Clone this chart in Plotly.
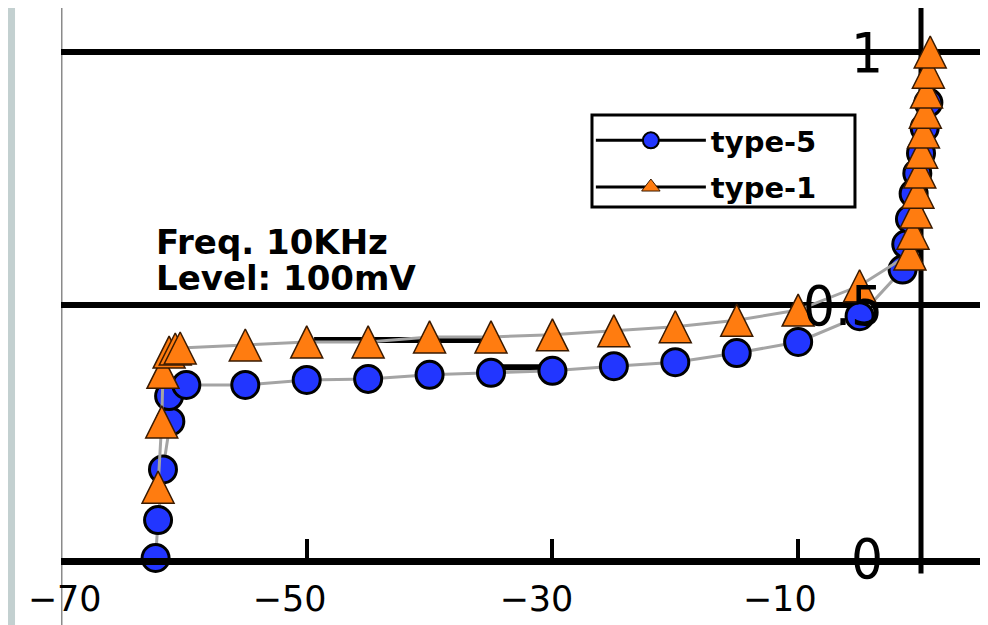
import plotly.graph_objects as go

# ---- data ----
# type-5 (blue circles)
t5_x = [-62.3, -62.1, -61.7, -61.1, -61.2, -59.8,
        -55, -50, -45, -40, -35, -30, -25, -20, -15, -10, -5,
        -1.5, -1.2, -0.9, -0.6, -0.3, 0.0, 0.3, 0.6]
t5_y = [0.0, 0.075, 0.175, 0.27, 0.32, 0.342,
        0.342, 0.352, 0.354, 0.362, 0.366, 0.370, 0.379, 0.387, 0.405, 0.427, 0.478,
        0.57, 0.62, 0.67, 0.72, 0.76, 0.80, 0.85, 0.90]

# type-1 (orange triangles)
t1_x = [-62.1, -61.8, -61.7, -61.2, -60.7, -60.3,
        -55, -50, -45, -40, -35, -30, -25, -20, -15, -10, -5,
        -0.9, -0.65, -0.4, -0.25, -0.1, 0.05, 0.2, 0.35, 0.45, 0.6, 0.75]
t1_y = [0.140, 0.269, 0.367, 0.407, 0.413, 0.415,
        0.421, 0.427, 0.427, 0.437, 0.437, 0.441, 0.449, 0.457, 0.470, 0.490, 0.538,
        0.601, 0.642, 0.684, 0.723, 0.763, 0.802, 0.842, 0.881, 0.921, 0.960, 1.0]

x_tickvals = [-70, -50, -30, -10]
x_ticktext = ["\u221270", "\u221250", "\u221230", "\u221210"]
x_labelpos = [-69.7, -51.4, -31.3, -11.5]   # where the printed labels sit
y_tickvals = [0, 0.5, 1]
y_ticktext = ["0", "0.5", "1"]
grid_levels = [0.5, 1]
note_lines = ["Freq. 10KHz", "Level: 100mV"]

BLUE = "#2236ff"
ORANGE = "#ff7c10"
LINEGRAY = "#a4a4a4"

fig = go.Figure()

fig.add_trace(go.Scatter(
    x=t5_x, y=t5_y, mode="lines+markers", name="type-5", showlegend=False,
    line=dict(color=LINEGRAY, width=3),
    marker=dict(symbol="circle", size=27, color=BLUE, line=dict(color="black", width=3)),
    cliponaxis=False,
))
fig.add_trace(go.Scatter(
    x=t1_x, y=t1_y, mode="lines+markers", name="type-1", showlegend=False,
    line=dict(color=LINEGRAY, width=3, backoff=0),
    marker=dict(symbol="arrow-down", angle=180, size=32, standoff=16, color=ORANGE,
                line=dict(color="#3a1a00", width=1.5)),
    cliponaxis=False,
))

# legend entries (no data)
fig.add_trace(go.Scatter(
    x=[None], y=[None], mode="lines+markers", name="type-5", legendgroup="a",
    line=dict(color="black", width=3),
    marker=dict(symbol="circle", size=16, color=BLUE, line=dict(color="black", width=2)),
))
fig.add_trace(go.Scatter(
    x=[None], y=[None], mode="lines+markers", name="type-1", legendgroup="b",
    line=dict(color="black", width=3),
    marker=dict(symbol="triangle-up", size=16, color=ORANGE, line=dict(color="#3a1a00", width=1)),
))
# carrier for the label axis
fig.add_trace(go.Scatter(x=[None], y=[None], xaxis="x2", showlegend=False, hoverinfo="skip"))

shapes = []
# white page area
shapes.append(dict(type="rect", xref="paper", yref="paper", x0=-0.0496, x1=1.0, y0=-0.14, y1=1.0,
                   fillcolor="white", line=dict(width=0), layer="below"))
# horizontal grid lines
for g in grid_levels:
    shapes.append(dict(type="line", xref="x", yref="y", x0=-70, x1=4.97, y0=g, y1=g,
                       line=dict(color="black", width=6), layer="below"))
# stray black segments
shapes.append(dict(type="line", xref="x", yref="y", x0=-49.4, x1=-34.5, y0=0.431, y1=0.431,
                   line=dict(color="black", width=6), layer="below"))
shapes.append(dict(type="line", xref="x", yref="y", x0=-34.2, x1=-30.5, y0=0.377, y1=0.377,
                   line=dict(color="black", width=6), layer="below"))
# vertical y axis at x = 0
shapes.append(dict(type="line", xref="x", yref="paper", x0=0, x1=0, y0=-0.028, y1=1.0,
                   line=dict(color="black", width=5), layer="below"))
# left and right gray frame lines
shapes.append(dict(type="line", xref="x", yref="paper", x0=-70, x1=-70, y0=-0.14, y1=1.0,
                   line=dict(color="#8a8a8a", width=3), layer="below"))
shapes.append(dict(type="line", xref="x", yref="paper", x0=4.97, x1=4.97, y0=-0.028, y1=1.0,
                   line=dict(color="#9a9a9a", width=3), layer="below"))
# legend frame
shapes.append(dict(type="rect", xref="paper", yref="paper", x0=0.5728, x1=0.8565, y0=0.638, y1=0.8055,
                   fillcolor="white", line=dict(color="black", width=3), layer="above"))

annotations = []
for txt, yv in zip(note_lines, [0.625, 0.553]):
    annotations.append(dict(x=-62.45, y=yv, xref="x", yref="y", text=txt, showarrow=False,
                            xanchor="left", yanchor="middle",
                            font=dict(family="DejaVu Sans", size=34, color="black", weight="bold")))

fig.update_layout(
    width=988, height=625,
    margin=dict(l=53, r=8, t=0, b=75, autoexpand=False),
    paper_bgcolor="#c3d0d0",
    plot_bgcolor="white",
    shapes=shapes,
    annotations=annotations,
    showlegend=True,
    legend=dict(x=0.5716, y=0.8055, xanchor="left", yanchor="top",
                bgcolor="rgba(0,0,0,0)", borderwidth=0,
                font=dict(family="DejaVu Sans", size=29, color="black", weight="bold"),
                itemwidth=110, tracegroupgap=6),
    xaxis=dict(range=[-70, 5.453], tickvals=x_tickvals, ticks="inside", ticklen=19, tickwidth=4,
               tickcolor="black", showline=True, linewidth=7, linecolor="black", automargin=False,
               showgrid=False, zeroline=False, showticklabels=False),
    xaxis2=dict(matches="x", overlaying="x", anchor="y", side="bottom", tickvals=x_labelpos,
                ticktext=x_ticktext, ticks="", showline=False, showgrid=False, zeroline=False,
                automargin=False, ticklabelstandoff=17,
                tickfont=dict(family="DejaVu Sans", size=35, color="black")),
    yaxis=dict(range=[0, 1.087], tickvals=y_tickvals, ticktext=y_ticktext, anchor="free",
               position=0.9277, showline=False, showgrid=False, zeroline=False, ticks="",
               ticklabelstandoff=38, automargin=False,
               tickfont=dict(family="Liberation Sans Narrow, DejaVu Sans Condensed, Liberation Sans",
                             size=56, color="black")),
)

fig.write_html("out.html")
